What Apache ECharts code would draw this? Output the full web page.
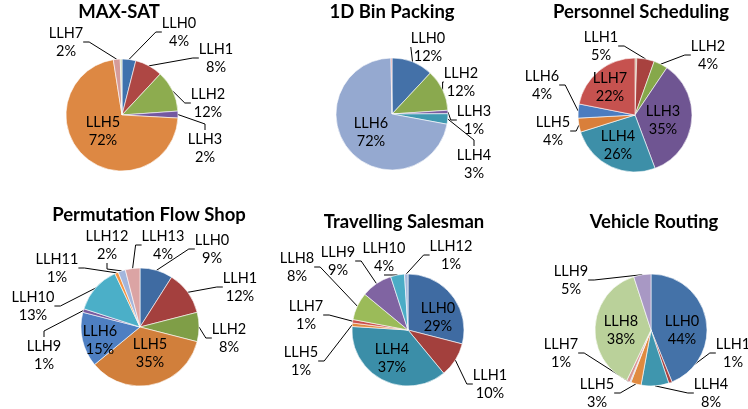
<!DOCTYPE html>
<html>
<head>
<meta charset="utf-8">
<script src="https://cdn.jsdelivr.net/npm/echarts@6/dist/echarts.min.js"></script>
<style>
html,body{margin:0;padding:0;background:#fff;}
#c{width:748px;height:409px;}
</style>
</head>
<body>
<div id="c"></div>
<script>
// ---- Data (percent shares) ----
const maxsatNames  = ['LLH0','LLH1','LLH2','LLH3','LLH5','LLH7','LLH8'];
const maxsatValues = [4, 8, 12, 2, 72, 2, 0.5];
const maxsatColors = ['#3F71AD','#AE4744','#8DAC4F','#7458A0','#DD8843','#D59B9A','#C9D6B8'];

const binNames  = ['LLH0','LLH2','LLH3','LLH4','LLH6','LLH7'];
const binValues = [12, 12, 1, 3, 72, 0.3];
const binColors = ['#4471A8','#8AA94E','#7A5DA0','#3F99B0','#95A9D0','#E08A8A'];

const persNames  = ['LLH0','LLH1','LLH2','LLH3','LLH4','LLH5','LLH6','LLH7'];
const persValues = [0.5, 5, 4, 35, 26, 4, 4, 22];
const persColors = ['#B8956A','#A8423F','#86A84A','#6F5592','#3D8FA8','#D97F3A','#4B7CC0','#C6524F'];

const pfsNames  = ['LLH0','LLH1','LLH2','LLH5','LLH6','LLH9','LLH10','LLH11','LLH12','LLH13'];
const pfsValues = [9, 12, 8, 35, 15, 1, 13, 1, 2, 4];
const pfsColors = ['#3F6BA2','#A4403E','#7F9E47','#D17F3B','#4E7FC2','#7A5CA0','#4BAFC8','#F59542','#A3B6DC','#DBA4A4'];

const tspNames  = ['LLH0','LLH1','LLH4','LLH5','LLH7','LLH8','LLH9','LLH10','LLH12'];
const tspValues = [29, 10, 37, 1, 1, 8, 9, 4, 1];
const tspColors = ['#3F6BA2','#A3403D','#3B8EA8','#E0893F','#CB504D','#9BBB59','#8064A2','#4BACC6','#A5B8DC'];

const vrpNames  = ['LLH0','LLH1','LLH4','LLH5','LLH6','LLH7','LLH8','LLH9'];
const vrpValues = [44, 1, 8, 3, 0.3, 1, 38, 5];
const vrpColors = ['#4472A8','#AA4240','#3F96AE','#E08A40','#9FB5DA','#D99594','#BAD19A','#A898C4'];

const chartTitles = ['MAX-SAT','1D Bin Packing','Personnel Scheduling','Permutation Flow Shop','Travelling Salesman','Vehicle Routing'];

// ---- Layout (pie geometry, title anchors, label text-block centres) ----
const panels = [
  {names: maxsatNames, values: maxsatValues, colors: maxsatColors, center: [122, 115], r: 56, title: [119, 3],
   labels: {LLH0:[179,32], LLH1:[216,58], LLH2:[208,103], LLH3:[205,148], LLH7:[66,42], LLH5:[103,131]}},
  {names: binNames, values: binValues, colors: binColors, center: [392, 114], r: 56, title: [392, 3],
   labels: {LLH0:[428,47], LLH2:[461,82], LLH3:[474,120], LLH4:[474,164], LLH6:[371,132]}},
  {names: persNames, values: persValues, colors: persColors, center: [635, 115], r: 57, title: [641, 3],
   labels: {LLH1:[601,46], LLH2:[708,55], LLH6:[542,85], LLH5:[553,131], LLH7:[610,87], LLH3:[663,120], LLH4:[618,145]}},
  {names: pfsNames, values: pfsValues, colors: pfsColors, center: [140, 327], r: 59, title: [149, 206],
   labels: {LLH12:[107,245], LLH13:[163,245], LLH0:[212,249], LLH1:[240,287], LLH2:[229,338], LLH11:[57,268],
            LLH10:[33,306], LLH9:[44,355], LLH6:[100,340], LLH5:[150,353]}},
  {names: tspNames, values: tspValues, colors: tspColors, center: [408, 330], r: 56, title: [404, 213],
   labels: {LLH12:[451,255], LLH10:[384,257], LLH9:[338,261], LLH8:[297,267], LLH7:[306,315], LLH5:[301,361],
            LLH1:[490,384], LLH0:[438,317], LLH4:[392,358]}},
  {names: vrpNames, values: vrpValues, colors: vrpColors, center: [651, 330], r: 56, title: [654, 213],
   labels: {LLH9:[571,280], LLH7:[561,353], LLH5:[597,393], LLH4:[711,393], LLH1:[733,353], LLH0:[682,330], LLH8:[621,330]}}
];

const FONT = 'Lato, "Open Sans", sans-serif';

const titles = panels.map((p, i) => ({
  text: chartTitles[i],
  left: p.title[0],
  top: p.title[1],
  padding: 0,
  textAlign: 'center',
  textStyle: {fontFamily: FONT, fontWeight: 'bold', fontSize: 18.5, color: '#000'}
}));

const series = panels.map(p => ({
  type: 'pie',
  center: p.center,
  radius: p.r,
  startAngle: 90,
  clockwise: true,
  avoidLabelOverlap: false,
  itemStyle: {borderColor: '#fff', borderWidth: 0.6},
  label: {
    show: true,
    position: 'outside',
    formatter: '{b}\n{c}%',
    fontFamily: FONT,
    fontSize: 14.5,
    lineHeight: 18,
    color: '#000',
    align: 'center'
  },
  labelLine: {show: true, length: 8, length2: 6, lineStyle: {color: '#000', width: 1}},
  labelLayout: function (params) {
    const pos = p.labels[p.names[params.dataIndex]];
    if (!pos) return {};
    return {x: pos[0], y: pos[1], align: 'center', verticalAlign: 'middle'};
  },
  emphasis: {disabled: true},
  data: p.names.map((n, k) => {
    const v = p.values[k];
    const d = {name: n, value: v, itemStyle: {color: p.colors[k]}};
    if (v < 0.6) {
      d.label = {show: false};
      d.labelLine = {show: false};
    } else if (v >= 15) {
      d.label = {position: 'inside'};
      d.labelLine = {show: false};
    }
    return d;
  })
}));

const chart = echarts.init(document.getElementById('c'), null, {renderer: 'canvas'});
chart.setOption({
  animation: false,
  backgroundColor: '#fff',
  title: titles,
  series: series
});
</script>
</body>
</html>
